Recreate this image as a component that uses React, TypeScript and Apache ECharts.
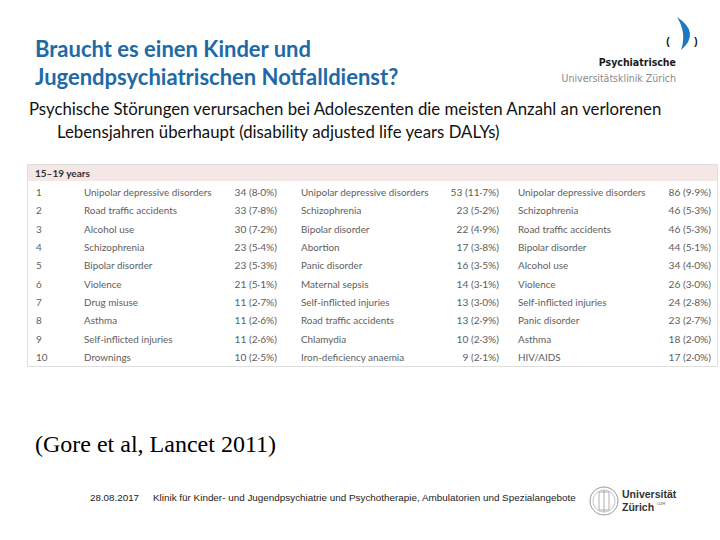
import React, { useEffect, useRef } from "react";
import * as echarts from "echarts";

const ranks = ["1", "2", "3", "4", "5", "6", "7", "8", "9", "10"];
const headerLabel = "15–19 years";

const maleCauses = [
  "Unipolar depressive disorders", "Road traffic accidents", "Alcohol use", "Schizophrenia",
  "Bipolar disorder", "Violence", "Drug misuse", "Asthma", "Self-inflicted injuries", "Drownings",
];
const maleDalys = [34, 33, 30, 23, 23, 21, 11, 11, 11, 10];
const maleShare = [8.0, 7.8, 7.2, 5.4, 5.3, 5.1, 2.7, 2.6, 2.6, 2.5];

const femaleCauses = [
  "Unipolar depressive disorders", "Schizophrenia", "Bipolar disorder", "Abortion",
  "Panic disorder", "Maternal sepsis", "Self-inflicted injuries", "Road traffic accidents",
  "Chlamydia", "Iron-deficiency anaemia",
];
const femaleDalys = [53, 23, 22, 17, 16, 14, 13, 13, 10, 9];
const femaleShare = [11.7, 5.2, 4.9, 3.8, 3.5, 3.1, 3.0, 2.9, 2.3, 2.1];

const totalCauses = [
  "Unipolar depressive disorders", "Schizophrenia", "Road traffic accidents", "Bipolar disorder",
  "Alcohol use", "Violence", "Self-inflicted injuries", "Panic disorder", "Asthma", "HIV/AIDS",
];
const totalDalys = [86, 46, 46, 44, 34, 26, 24, 23, 18, 17];
const totalShare = [9.9, 5.3, 5.3, 5.1, 4.0, 3.0, 2.8, 2.7, 2.0, 2.0];

const titleLines = ["Braucht es einen Kinder und", "Jugendpsychiatrischen Notfalldienst?"];
const subtitleLines = [
  "Psychische Störungen verursachen bei Adoleszenten die meisten Anzahl an verlorenen",
  "Lebensjahren überhaupt (disability adjusted life years DALYs)",
];
const citation = "(Gore et al, Lancet 2011)";
const footerDate = "28.08.2017";
const footerText =
  "Klinik für Kinder- und Jugendpsychiatrie und Psychotherapie, Ambulatorien und Spezialangebote";

const fmt = (n: number, s: number) => `${n} (${s.toFixed(1).replace(".", "·")}%)`;

const TABLE_FONT = "Lato, sans-serif";
const TABLE_COLOR = "#5e5e5e";

export default function App() {
  const ref = useRef<HTMLDivElement>(null);
  useEffect(() => {
    if (!ref.current) return;
    echarts.graphic.registerShape(
      "pukArc",
      echarts.graphic.extendPath("M2,0 Q26,16 6,33 Q12,16 2,0 Z", {})
    );
    const chart = echarts.init(ref.current, null, { renderer: "svg" });
    const cols = [
      { causes: maleCauses, dalys: maleDalys, share: maleShare, cx: 84, vx: 277 },
      { causes: femaleCauses, dalys: femaleDalys, share: femaleShare, cx: 301, vx: 499 },
      { causes: totalCauses, dalys: totalDalys, share: totalShare, cx: 518, vx: 711 },
    ];
    const txt = (x: number, y: number, text: string, align = "left", extra: any = {}) => ({
      type: "text",
      x,
      y,
      style: {
        text,
        align,
        verticalAlign: "middle",
        fontFamily: TABLE_FONT,
        fontSize: 9.9,
        fill: TABLE_COLOR,
        ...extra,
      },
    });
    const option: any = {
      animation: false,
      backgroundColor: "#ffffff",
      grid: { left: 0, right: 0, top: 182.8, bottom: 540 - 366.2 },
      xAxis: { type: "value", min: 0, max: 720, show: false },
      yAxis: { type: "category", data: ranks, inverse: true, show: false },
      series: [
        {
          type: "custom",
          data: ranks.map((_, i) => [0, i]),
          encode: { x: 0, y: 1 },
          renderItem: (params: any, api: any) => {
            const i = api.value(1);
            const y = api.coord([0, i])[1];
            const children: any[] = [txt(api.coord([36, i])[0], y, ranks[i])];
            cols.forEach((c) => {
              children.push(txt(api.coord([c.cx, i])[0], y, c.causes[i]));
              children.push(
                txt(api.coord([c.vx, i])[0], y, fmt(c.dalys[i], c.share[i]), "right", { fontSize: 10.2 })
              );
            });
            return { type: "group", children };
          },
        },
      ],
      graphic: [
        {
          type: "rect",
          shape: { x: 27.5, y: 164.5, width: 690, height: 202 },
          style: { fill: "#ffffff", stroke: "#dedede", lineWidth: 1 },
          z: -2,
        },
        {
          type: "rect",
          shape: { x: 28, y: 165, width: 689, height: 16 },
          style: { fill: "#f6e7e7" },
          z: -1,
        },
        {
          type: "text",
          x: 35,
          y: 173,
          style: {
            text: headerLabel,
            verticalAlign: "middle",
            fontFamily: TABLE_FONT,
            fontSize: 10,
            fontWeight: "bold",
            fill: "#333333",
          },
        },
        ...titleLines.map((t, i) => ({
          type: "text",
          x: 35,
          y: 48 + i * 28,
          style: {
            text: t,
            verticalAlign: "middle",
            fontFamily: "Lato, sans-serif",
            fontWeight: "bold",
            fontSize: 22,
            fill: "#1d6aa6",
          },
        })),
        ...subtitleLines.map((t, i) => ({
          type: "text",
          x: i === 0 ? 29 : 57,
          y: 108 + i * 23,
          style: {
            text: t,
            verticalAlign: "middle",
            fontFamily: "Lato, sans-serif",
            fontSize: 16.8,
            fill: "#111111",
          },
        })),
        {
          type: "text",
          x: 35,
          y: 444,
          style: {
            text: citation,
            verticalAlign: "middle",
            fontFamily: "'Liberation Serif', serif",
            fontSize: 24,
            fill: "#000000",
          },
        },
        {
          type: "text",
          x: 90,
          y: 497,
          style: {
            text: footerDate,
            verticalAlign: "middle",
            fontFamily: "'Liberation Sans', Arial, sans-serif",
            fontSize: 9.8,
            fill: "#222222",
          },
        },
        {
          type: "text",
          x: 153,
          y: 497,
          style: {
            text: footerText,
            verticalAlign: "middle",
            fontFamily: "'Liberation Sans', Arial, sans-serif",
            fontSize: 9.9,
            fill: "#222222",
          },
        },
        {
          type: "circle",
          shape: { cx: 604, cy: 501, r: 14 },
          style: { fill: "none", stroke: "#9a9a9a", lineWidth: 1 },
        },
        {
          type: "circle",
          shape: { cx: 604, cy: 501, r: 11 },
          style: { fill: "none", stroke: "#b5b5b5", lineWidth: 0.8 },
        },
        {
          type: "rect",
          shape: { x: 599, y: 492, width: 10, height: 18 },
          style: { fill: "none", stroke: "#9a9a9a", lineWidth: 0.8 },
        },
        {
          type: "line",
          shape: { x1: 604, y1: 490, x2: 604, y2: 512 },
          style: { stroke: "#9a9a9a", lineWidth: 0.8 },
        },
        {
          type: "text",
          x: 622,
          y: 494,
          style: {
            text: "Universität",
            verticalAlign: "middle",
            fontFamily: "'Liberation Sans', Arial, sans-serif",
            fontWeight: "bold",
            fontSize: 10.5,
            fill: "#333333",
          },
        },
        {
          type: "text",
          x: 622,
          y: 507,
          style: {
            text: "Zürich",
            verticalAlign: "middle",
            fontFamily: "'Liberation Sans', Arial, sans-serif",
            fontWeight: "bold",
            fontSize: 10.5,
            fill: "#333333",
          },
        },
        {
          type: "text",
          x: 657,
          y: 503,
          style: {
            text: "UZH",
            verticalAlign: "middle",
            fontFamily: "'Liberation Sans', Arial, sans-serif",
            fontSize: 4,
            fill: "#555555",
          },
        },
        {
          type: "pukArc",
          x: 675,
          y: 17,
          style: { fill: "#1e78c0" },
        },
        {
          type: "text",
          x: 668,
          y: 41,
          style: {
            text: "(",
            align: "center",
            verticalAlign: "middle",
            fontFamily: "'Liberation Sans', Arial, sans-serif",
            fontWeight: "bold",
            fontSize: 10,
            fill: "#111111",
          },
        },
        {
          type: "text",
          x: 696,
          y: 41,
          style: {
            text: ")",
            align: "center",
            verticalAlign: "middle",
            fontFamily: "'Liberation Sans', Arial, sans-serif",
            fontWeight: "bold",
            fontSize: 10,
            fill: "#111111",
          },
        },
        {
          type: "text",
          x: 676,
          y: 62,
          style: {
            text: "Psychiatrische",
            align: "right",
            verticalAlign: "middle",
            fontFamily: "'DejaVu Sans Condensed', 'Liberation Sans', sans-serif",
            fontWeight: "bold",
            fontSize: 10.5,
            fill: "#1a1a1a",
          },
        },
        {
          type: "text",
          x: 676,
          y: 78,
          style: {
            text: "Universitätsklinik Zürich",
            align: "right",
            verticalAlign: "middle",
            fontFamily: "'DejaVu Sans Condensed', 'Liberation Sans', sans-serif",
            fontSize: 10.5,
            fill: "#8a8a8a",
          },
        },
      ],
    };
    chart.setOption(option);
    return () => chart.dispose();
  }, []);
  return (
    <div
      ref={ref}
      style={{ position: "absolute", left: 0, top: 0, width: 720, height: 540 }}
    />
  );
}
